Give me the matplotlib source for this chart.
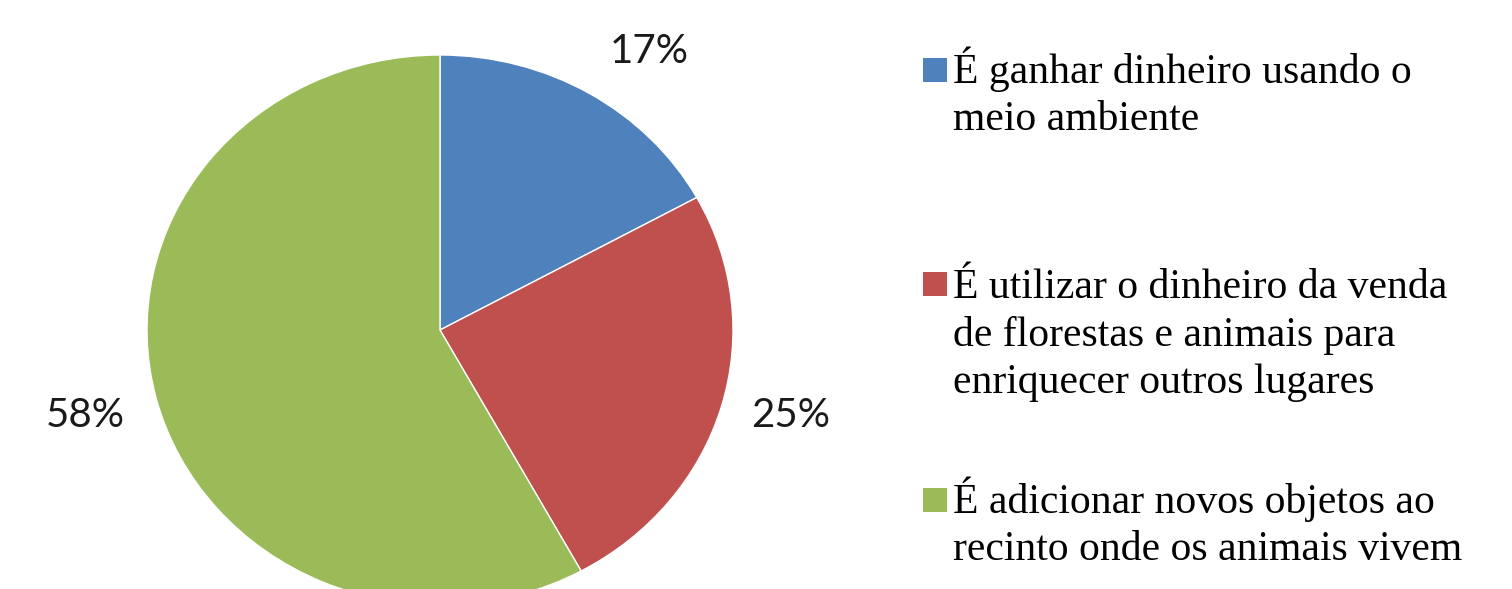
import numpy as np
import matplotlib.pyplot as plt
from matplotlib.patches import Rectangle

# data
categories = [
    "É ganhar dinheiro usando o\nmeio ambiente",
    "É utilizar o dinheiro da venda\nde florestas e animais para\nenriquecer outros lugares",
    "É adicionar novos objetos ao\nrecinto onde os animais vivem",
]
shares = [17, 25, 58]
colors = ["#4F81BD", "#C0504D", "#9BBB59"]

W, H = 1512, 589
fig = plt.figure(figsize=(W / 100, H / 100), dpi=100)

# the original pie is slightly stretched sideways: put it in an axes
# whose box is the ellipse (rx=293 px, ry=275 px, centre at 440,330)
cx, cy, rx, ry = 440, 330, 293, 275
ax = fig.add_axes([(cx - rx) / W, (H - cy - ry) / H, 2 * rx / W, 2 * ry / H])
wedges, _ = ax.pie(
    shares,
    colors=colors,
    startangle=90,
    counterclock=False,
    wedgeprops=dict(edgecolor="white", linewidth=1),
)
ax.set_aspect("auto")
ax.set_xlim(-1, 1)
ax.set_ylim(-1, 1)
ax.axis("off")

# percentage labels outside the slices
label_dist = [1.24, 1.235, 1.25]
angle_shift = [-4.5, 1.7, 0]
for w, v, d, s in zip(wedges, shares, label_dist, angle_shift):
    theta = np.deg2rad((w.theta1 + w.theta2) / 2 + s)
    ax.text(d * np.cos(theta), d * np.sin(theta), f"{v}%", ha="center", va="center",
            fontsize=29, family="Lato", color="#1a1a1a", clip_on=False)

# legend drawn by hand (square sits on the first line's baseline)
lg = fig.add_axes([0, 0, 1, 1])
lg.set_xlim(0, W)
lg.set_ylim(H, 0)
lg.axis("off")
baselines = [82, 296, 512]
pitch = 48.5  # px between legend text lines
for lab, col, base in zip(categories, colors, baselines):
    n = lab.count("\n")
    lg.add_patch(Rectangle((923, base - 24), 24, 24, facecolor=col, edgecolor="none"))
    # va="baseline" pins the last line, so shift down by the extra lines
    lg.text(953, base + n * pitch, lab, ha="left", va="baseline", fontsize=30,
            family="Liberation Serif", linespacing=1.3, color="black")

fig.savefig("out.png", dpi=100)
